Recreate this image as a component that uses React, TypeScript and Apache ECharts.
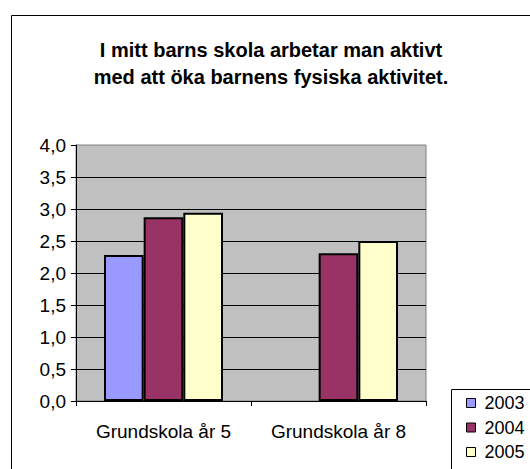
import React, { useEffect, useRef } from "react";
import * as echarts from "echarts";

const titleLines = [
  "I mitt barns skola arbetar man aktivt",
  "med att öka barnens fysiska aktivitet.",
];
const categories = ["Grundskola år 5", "Grundskola år 8"];
const seriesNames = ["2003", "2004", "2005"];
const values2003 = [2.28, null];
const values2004 = [2.87, 2.31];
const values2005 = [2.94, 2.5];
const seriesColors = ["#9999FF", "#993366", "#FFFFCC"];

const FONT = "'Liberation Sans', Arial, sans-serif";

export default function App() {
  const ref = useRef<HTMLDivElement>(null);
  useEffect(() => {
    if (!ref.current) return;
    const chart = echarts.init(ref.current, null, { renderer: "svg" });
    const data = [values2003, values2004, values2005];
    chart.setOption({
      animation: false,
      backgroundColor: "#ffffff",
      title: {
        text: titleLines.join("\n"),
        left: 271,
        top: 36,
        padding: 0,
        textAlign: "center",
        textStyle: {
          fontFamily: FONT,
          fontSize: 20,
          fontWeight: "bold",
          color: "#000",
          lineHeight: 27,
        },
      },
      grid: {
        left: 76,
        top: 145,
        width: 350,
        height: 256,
        show: true,
        backgroundColor: "#C0C0C0",
        borderColor: "#808080",
        borderWidth: 1,
        containLabel: false,
      },
      legend: {
        orient: "vertical",
        left: 466,
        top: 394,
        padding: 0,
        itemWidth: 9,
        itemHeight: 9,
        itemGap: 6.5,
        icon: "rect",
        data: seriesNames,
        itemStyle: { borderColor: "#000", borderWidth: 1 },
        textStyle: {
          fontFamily: FONT,
          fontSize: 18,
          lineHeight: 18,
          color: "#000",
          padding: [0, 0, 0, 4],
        },
      },
      xAxis: {
        type: "category",
        data: categories,
        axisLine: { show: true, lineStyle: { color: "#000", width: 1 } },
        axisTick: { show: true, length: 5, lineStyle: { color: "#000" } },
        axisLabel: {
          interval: 0,
          margin: 21,
          fontFamily: FONT,
          fontSize: 19,
          color: "#000",
        },
      },
      yAxis: {
        type: "value",
        min: 0,
        max: 4,
        interval: 0.5,
        axisLine: { show: true, lineStyle: { color: "#000", width: 1 } },
        axisTick: { show: true, length: 5, lineStyle: { color: "#000" } },
        axisLabel: {
          margin: 10,
          fontFamily: FONT,
          fontSize: 19,
          color: "#000",
          formatter: (v: number) => v.toFixed(1).replace(".", ","),
        },
        splitLine: {
          show: true,
          showMaxLine: false,
          lineStyle: { color: "#000", width: 1 },
        },
      },
      graphic: [
        {
          type: "rect",
          z: -10,
          silent: true,
          shape: { x: 11.5, y: 15.5, width: 540, height: 480 },
          style: { fill: "none", stroke: "#000", lineWidth: 1 },
        },
        {
          type: "rect",
          z: -10,
          silent: true,
          shape: { x: 451.5, y: 389.5, width: 100, height: 100 },
          style: { fill: "#fff", stroke: "#000", lineWidth: 1 },
        },
      ],
      series: seriesNames.map((name, i) => ({
        name,
        type: "bar",
        data: data[i],
        barGap: "0%",
        barCategoryGap: "32%",
        itemStyle: {
          color: seriesColors[i],
          borderColor: "#000",
          borderWidth: 2,
        },
      })),
    });
    return () => chart.dispose();
  }, []);
  return (
    <div
      ref={ref}
      style={{ position: "fixed", left: 0, top: 0, width: 530, height: 469 }}
    />
  );
}
